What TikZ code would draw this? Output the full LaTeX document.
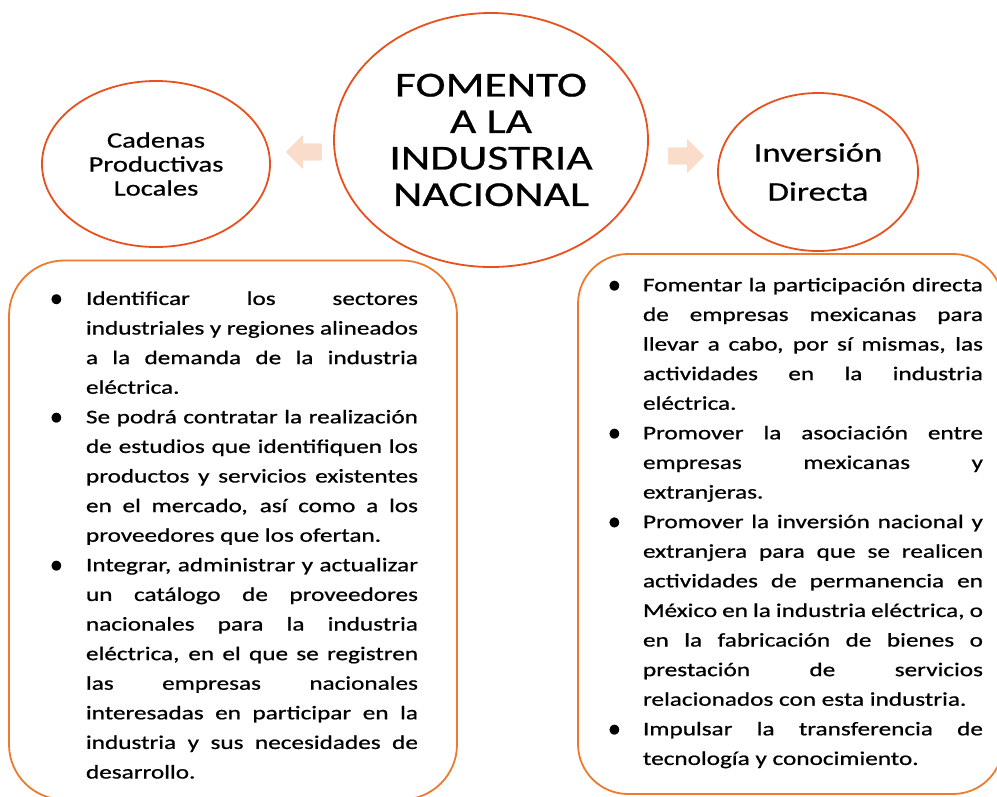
\documentclass[tikz,border=0pt]{standalone}
\usepackage{fontspec}
\setmainfont{Carlito}[FakeStretch=1.3, FakeBold=0.7]
\usepackage{tikz}
\usetikzlibrary{shapes.geometric, shapes.arrows, positioning, calc}

\definecolor{ringred}{HTML}{E8501E}
\definecolor{boxorange}{HTML}{EF7A2C}
\definecolor{arrowpeach}{HTML}{F9DDCA}

\hyphenpenalty=10000
\exhyphenpenalty=10000
\tolerance=9999
\hbadness=10000

\newcommand{\punto}{\llap{\raisebox{-0.1em}{\scalebox{1.05}[1.4]{\textbullet}}}}
\newenvironment{puntos}[2]{%
  \begin{list}{\punto}{%
    \setlength{\leftmargin}{#1}\setlength{\labelsep}{#2}%
    \setlength{\labelwidth}{\dimexpr#1-#2\relax}%
    \setlength{\itemsep}{0pt}\setlength{\parsep}{0pt}%
    \setlength{\topsep}{0pt}\setlength{\partopsep}{0pt}}}%
  {\end{list}}

\begin{document}
\begin{tikzpicture}[x=1pt, y=-1pt, on grid,
    ring/.style={ellipse, draw=ringred, line width=1.8pt, inner sep=0pt, align=center},
    listbox/.style={rectangle, draw=boxorange, line width=1.8pt, inner sep=0pt, align=justify,
      font=\fontsize{19.4}{29.6}\selectfont},
    blockarrow/.style={single arrow, fill=arrowpeach, draw=arrowpeach!90!orange, line width=0.4pt,
      minimum height=35pt, inner sep=8pt, single arrow head extend=8pt}]
    \useasboundingbox (0,0) rectangle (997,796);
    \clip (0,0) rectangle (997,796);

    % circles
    \node[ring, minimum width=314pt, minimum height=254pt, font=\fontsize{35}{36.5}\selectfont]
        (fomento) at (491,140) {FOMENTO\\A LA\\INDUSTRIA\\NACIONAL};
    \node[ring, minimum width=228pt, minimum height=166pt, font=\fontsize{22}{24}\selectfont]
        (cadenas) [below left=24pt and 335pt of fomento] {Cadenas\\Productivas\\Locales};
    \node[ring, minimum width=200pt, minimum height=158pt, font=\fontsize{26.7}{39}\selectfont]
        (inversion) [below right=32pt and 327pt of fomento] {Inversión\\Directa};

    % arrows
    \node[blockarrow, shape border rotate=180, xshift=6pt] (izq) at ($(cadenas.east)!0.5!(fomento.west)$) {};
    \node[blockarrow, xshift=-1pt] (der) at ($(fomento.east)!0.5!(inversion.west)$) {};

    % boxes
    \node[listbox, minimum width=448pt, minimum height=539pt, rounded corners=55pt, text width=370pt]
        (cadlist) at (233,530) {%
        \begin{puntos}{38pt}{23pt}
        \item Identificar los sectores\linebreak industriales y regiones alineados\linebreak
          a la demanda de la industria\linebreak eléctrica.
        \item Se podrá contratar la realización\linebreak de estudios que identifiquen los\linebreak
          productos y servicios existentes\linebreak en el mercado, así como a los\linebreak
          proveedores que los ofertan.
        \item Integrar, administrar y actualizar\linebreak un catálogo de proveedores\linebreak
          nacionales para la industria\linebreak eléctrica, en el que se registren\linebreak
          las empresas nacionales\linebreak interesadas en participar en la\linebreak
          industria y sus necesidades de\linebreak desarrollo.
        \end{puntos}\par\kern6pt};
    \node[listbox, minimum width=425pt, minimum height=540pt, rounded corners=50pt, text width=385pt]
        (invlist) at (790.5,524) {%
        \begin{puntos}{45pt}{22pt}
        \item Fomentar la participación directa\linebreak de empresas mexicanas para\linebreak
          llevar a cabo, por sí mismas, las\linebreak actividades en la industria\linebreak
          eléctrica.
        \item Promover la asociación entre\linebreak empresas mexicanas y\linebreak extranjeras.
        \item Promover la inversión nacional y\linebreak extranjera para que se realicen\linebreak
          actividades de permanencia en\linebreak México en la industria eléctrica, o\linebreak
          en la fabricación de bienes o\linebreak prestación de servicios\linebreak
          relacionados con esta industria.
        \item Impulsar la transferencia de\linebreak tecnología y conocimiento.
        \end{puntos}\par\kern18pt};
\end{tikzpicture}
\end{document}
